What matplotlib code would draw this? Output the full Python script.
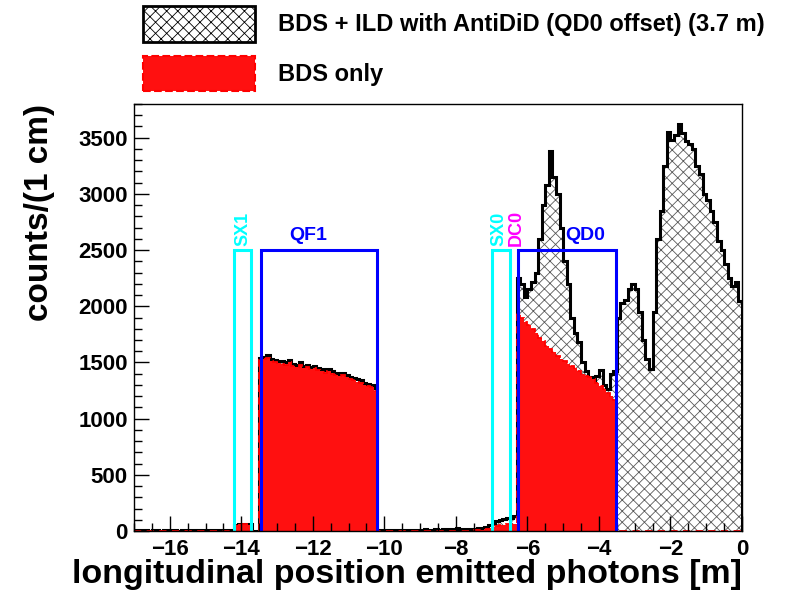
import numpy as np
import matplotlib
matplotlib.use("Agg")
import matplotlib.pyplot as plt
from matplotlib.patches import Patch
from matplotlib.ticker import MultipleLocator

plt.rcParams['font.family'] = ['Liberation Sans', 'DejaVu Sans']
plt.rcParams['font.weight'] = 'bold'
plt.rcParams['axes.labelweight'] = 'bold'
plt.rcParams['hatch.linewidth'] = 0.6

# histogram binning (metres), 0.1 m bins from -17 to 0
x_start = -17.0
bin_width = 0.1

# BDS + ILD with AntiDiD, counts per bin (one row per metre)
ild = [
    5, 4, 6, 5, 4, 5, 6, 4, 5, 5,                                # -17 .. -16
    5, 6, 4, 5, 5, 6, 5, 4, 5, 6,                                # -16 .. -15
    5, 6, 5, 6, 5, 6, 5, 5, 55, 60,                              # -15 .. -14
    62, 65, 60, 3, 3, 1540, 1550, 1565, 1530, 1520,              # -14 .. -13
    1515, 1510, 1500, 1520, 1490, 1480, 1500, 1470, 1480, 1460,  # -13 .. -12
    1470, 1450, 1440, 1430, 1440, 1420, 1410, 1400, 1410, 1390,  # -12 .. -11
    1370, 1360, 1350, 1345, 1320, 1310, 1300, 1270, 8, 10,       # -11 .. -10
    10, 12, 9, 11, 10, 12, 10, 11, 13, 12,                       # -10 .. -9
    12, 14, 12, 13, 14, 12, 15, 14, 16, 15,                      # -9 .. -8
    25, 16, 18, 18, 20, 22, 25, 30, 40, 50,                      # -8 .. -7
    60, 90, 100, 110, 115, 120, 130, 2250, 2200, 2080,           # -7 .. -6
    2150, 2220, 2300, 2600, 2900, 3080, 3380, 3150, 3000, 2700,  # -6 .. -5
    2400, 2200, 1900, 1760, 1680, 1500, 1420, 1370, 1330, 1380,  # -5 .. -4
    1430, 1300, 1260, 1400, 1420, 1900, 2030, 2060, 2150, 2200,  # -4 .. -3
    2150, 1950, 1700, 1530, 1440, 1950, 2600, 2850, 3250, 3550,  # -3 .. -2
    3480, 3520, 3620, 3540, 3470, 3440, 3400, 3250, 3180, 3000,  # -2 .. -1
    2950, 2850, 2750, 2580, 2500, 2380, 2250, 2180, 2220, 2050,  # -1 .. 0
]

# BDS only, counts per bin
bds = [
    3, 2, 3, 2, 3, 2, 3, 2, 3, 2,
    3, 2, 3, 2, 3, 2, 3, 2, 3, 2,
    3, 2, 3, 2, 3, 2, 3, 2, 55, 60,
    62, 62, 55, 0, 0, 1520, 1530, 1540, 1510, 1500,
    1495, 1490, 1480, 1500, 1470, 1460, 1480, 1450, 1460, 1440,
    1450, 1430, 1420, 1410, 1420, 1400, 1390, 1380, 1390, 1370,
    1350, 1340, 1330, 1320, 1300, 1290, 1280, 1250, 0, 0,
    3, 2, 3, 2, 3, 2, 3, 2, 3, 2,
    3, 2, 3, 2, 3, 2, 3, 2, 3, 2,
    3, 2, 3, 2, 3, 5, 8, 10, 15, 20,
    40, 45, 50, 55, 60, 60, 65, 1940, 1900, 1860,
    1830, 1800, 1760, 1720, 1690, 1650, 1620, 1590, 1560, 1530,
    1510, 1490, 1470, 1450, 1420, 1400, 1380, 1370, 1350, 1320,
    1290, 1260, 1230, 1200, 1170, 0, 0, 0, 0, 0,
    0, 0, 0, 0, 0, 0, 0, 0, 0, 0,
    0, 0, 0, 0, 0, 0, 0, 0, 0, 0,
    0, 0, 0, 0, 0, 0, 0, 0, 0, 0,
]

# magnet apertures
magnets = ["SX1", "QF1", "SX0", "QD0"]
mag_start = [-14.20, -13.46, -6.99, -6.25]
mag_end = [-13.72, -10.20, -6.48, -3.53]
mag_height = 2500

edges = x_start + bin_width * np.arange(len(ild) + 1)

fig, ax = plt.subplots(figsize=(7.86, 5.91), dpi=100)
fig.subplots_adjust(left=0.1705, right=0.944, bottom=0.1015, top=0.824)

ax.stairs(ild, edges, fill=True, facecolor="white", edgecolor="0.35",
          hatch="xxx", linewidth=0)
ax.stairs(ild, edges, color="black", linewidth=2.2)
ax.stairs(bds, edges, fill=True, color="#ff1010", linewidth=0)
ax.stairs(bds, edges, color="red", linewidth=1.3, linestyle=(0, (4, 3)))

# magnet boxes
mag_color = {"SX1": "#00ffff", "QF1": "#0000ff", "SX0": "#00ffff", "QD0": "#0000ff"}
for name, x0, x1 in zip(magnets, mag_start, mag_end):
    ax.plot([x0, x0, x1, x1], [0, mag_height, mag_height, 0],
            color=mag_color[name], linewidth=2.2, solid_joinstyle="miter")

ax.text(-13.96, 2540, "SX1", color="#00ffff", fontsize=13, rotation=90,
        ha="center", va="bottom")
ax.text(-12.12, 2550, "QF1", color="#0000ff", fontsize=14, ha="center", va="bottom")
ax.text(-6.80, 2540, "SX0", color="#00ffff", fontsize=13, rotation=90,
        ha="center", va="bottom")
ax.text(-6.31, 2540, "DC0", color="#ff00ff", fontsize=13, rotation=90,
        ha="center", va="bottom")
ax.text(-4.39, 2550, "QD0", color="#0000ff", fontsize=14, ha="center", va="bottom")

ax.set_xlim(-17, 0)
ax.set_ylim(0, 3800)
ax.xaxis.set_major_locator(MultipleLocator(2))
ax.xaxis.set_minor_locator(MultipleLocator(0.5))
ax.yaxis.set_major_locator(MultipleLocator(500))
ax.yaxis.set_minor_locator(MultipleLocator(100))
ax.tick_params(which="both", direction="in", top=False, right=False,
               labelsize=16, width=1)
ax.tick_params(which="major", length=11)
ax.tick_params(which="minor", length=5.5)
ax.tick_params(axis="x", pad=6)
ax.tick_params(axis="y", pad=4.5)
for s in ax.spines.values():
    s.set_linewidth(1)

ax.set_xlabel("longitudinal position emitted photons [m]", fontsize=24.5, loc="right")
ax.xaxis.set_label_coords(1.0, -0.066)
ax.xaxis.label.set_va("top")
ax.set_ylabel("counts/(1 cm)", fontsize=24, loc="top")
ax.yaxis.set_label_coords(-0.13, 1.0)

h1 = Patch(facecolor="white", edgecolor="black", hatch="xxx", linewidth=2)
h2 = Patch(facecolor="#ff1010", edgecolor="red", linestyle="--", linewidth=1.5)
fig.legend([h1, h2], ["BDS + ILD with AntiDiD (QD0 offset) (3.7 m)", "BDS only"],
           loc="upper left", bbox_to_anchor=(143 / 786, 1 - 6 / 591),
           frameon=False, fontsize=17, handlelength=4.74, handleheight=1.94,
           labelspacing=0.6, handletextpad=0.97, borderpad=0, borderaxespad=0)

fig.savefig("out.png", dpi=100)
